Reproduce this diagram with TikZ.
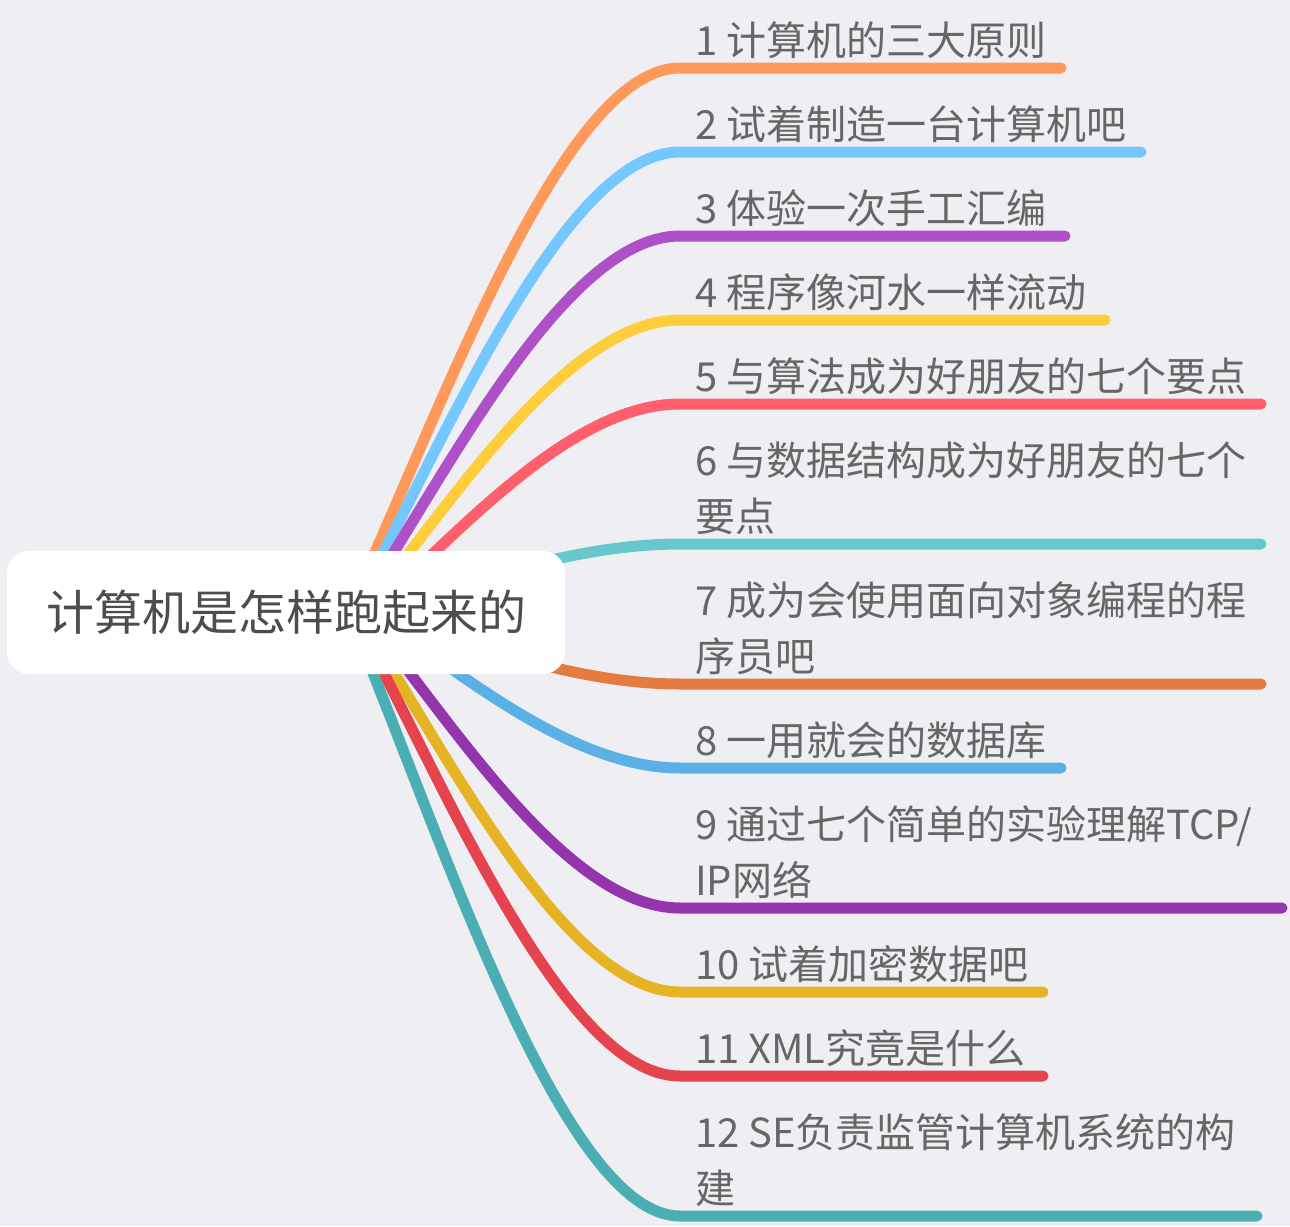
\documentclass[tikz,border=0pt]{standalone}
\usepackage{fontspec}
\setmainfont{Noto Sans CJK SC}
\usetikzlibrary{backgrounds}
\definecolor{bg}{HTML}{EEEEF3}
\definecolor{lbltxt}{HTML}{666666}
\definecolor{roottxt}{HTML}{4D4D4D}
\definecolor{c1}{HTML}{FF995A}
\definecolor{c2}{HTML}{74C8FF}
\definecolor{c3}{HTML}{AE51C8}
\definecolor{c4}{HTML}{FFCD3C}
\definecolor{c5}{HTML}{FF5F6D}
\definecolor{c6}{HTML}{66C8CC}
\definecolor{c7}{HTML}{E57C3F}
\definecolor{c8}{HTML}{5BB0E6}
\definecolor{c9}{HTML}{9535AD}
\definecolor{c10}{HTML}{E5B323}
\definecolor{c11}{HTML}{E5444F}
\definecolor{c12}{HTML}{4BAEB3}
\begin{document}
\begin{tikzpicture}[x=1pt,y=-1pt,
  br/.style={line width=11pt, line cap=round, line join=round, draw=#1},
  lbl/.style={anchor=base west, inner sep=0pt, align=left, text=lbltxt, font=\fontsize{40}{56}\selectfont},
  rootbox/.style={fill=white, rounded corners=22pt, minimum width=558pt, minimum height=123pt, inner sep=0pt, text=roottxt, font=\fontsize{48}{56}\selectfont}]
\useasboundingbox (0,0) rectangle (1290,1226);
\node[rootbox] (root) at (286,612.5) {计算机是怎样跑起来的};
% start points (hidden behind root), bend points, end points
\coordinate (s1) at (348,612);  \coordinate (b1) at (680,68);   \coordinate (e1) at (1061,68);
\coordinate (s2) at (352,612);  \coordinate (b2) at (680,152);  \coordinate (e2) at (1141,152);
\coordinate (s3) at (356,612);  \coordinate (b3) at (680,236);  \coordinate (e3) at (1065,236);
\coordinate (s4) at (362,612);  \coordinate (b4) at (680,320);  \coordinate (e4) at (1105,320);
\coordinate (s5) at (370,612);  \coordinate (b5) at (680,404);  \coordinate (e5) at (1261,404);
\coordinate (s6) at (370,612);  \coordinate (b6) at (680,544);  \coordinate (e6) at (1261,544);
\coordinate (s7) at (370,612);  \coordinate (b7) at (680,684);  \coordinate (e7) at (1261,684);
\coordinate (s8) at (370,612);  \coordinate (b8) at (680,768);  \coordinate (e8) at (1061,768);
\coordinate (s9) at (362,612);  \coordinate (b9) at (680,908);  \coordinate (e9) at (1282,908);
\coordinate (s10) at (356,612); \coordinate (b10) at (680,992); \coordinate (e10) at (1043,992);
\coordinate (s11) at (352,612); \coordinate (b11) at (680,1076);\coordinate (e11) at (1043,1076);
\coordinate (s12) at (348,612); \coordinate (b12) at (680,1216);\coordinate (e12) at (1257,1216);
% labels (base anchor = baseline of the last line)
\node[lbl] (t1) at (695,55) {1 计算机的三大原则};
\node[lbl] (t2) at (695,139) {2 试着制造一台计算机吧};
\node[lbl] (t3) at (695,223) {3 体验一次手工汇编};
\node[lbl] (t4) at (695,307) {4 程序像河水一样流动};
\node[lbl] (t5) at (695,391) {5 与算法成为好朋友的七个要点};
\node[lbl] (t6) at (695,531) {6 与数据结构成为好朋友的七个\\要点};
\node[lbl] (t7) at (695,671) {7 成为会使用面向对象编程的程\\序员吧};
\node[lbl] (t8) at (695,755) {8 一用就会的数据库};
\node[lbl] (t9) at (695,895) {9 通过七个简单的实验理解TCP/\\IP网络};
\node[lbl] (t10) at (695,979) {10 试着加密数据吧};
\node[lbl] (t11) at (695,1063) {11 XML究竟是什么};
\node[lbl] (t12) at (695,1203) {12 SE负责监管计算机系统的构\\建};
\begin{pgfonlayer}{background}
\fill[bg] (0,0) rectangle (1290,1226);
\draw[br=c1] (s1) .. controls (437.6,421.6) and (560.5,68) .. (b1) -- (e1);
\draw[br=c2] (s2) .. controls (440.6,451) and (561.9,152) .. (b2) -- (e2);
\draw[br=c3] (s3) .. controls (443.5,480.4) and (563.4,236) .. (b3) -- (e3);
\draw[br=c4] (s4) .. controls (447.9,509.8) and (565.5,320) .. (b4) -- (e4);
\draw[br=c5] (s5) .. controls (453.7,539.2) and (568.4,404) .. (b5) -- (e5);
\draw[br=c6] (s6) .. controls (453.7,588.2) and (568.4,544) .. (b6) -- (e6);
\draw[br=c7] (s7) .. controls (453.7,637.2) and (568.4,684) .. (b7) -- (e7);
\draw[br=c8] (s8) .. controls (453.7,666.6) and (568.4,768) .. (b8) -- (e8);
\draw[br=c9] (s9) .. controls (447.9,715.6) and (565.5,908) .. (b9) -- (e9);
\draw[br=c10] (s10) .. controls (443.5,745) and (563.4,992) .. (b10) -- (e10);
\draw[br=c11] (s11) .. controls (440.6,774.4) and (561.9,1076) .. (b11) -- (e11);
\draw[br=c12] (s12) .. controls (437.6,823.4) and (560.5,1216) .. (b12) -- (e12);
\end{pgfonlayer}
\end{tikzpicture}
\end{document}
